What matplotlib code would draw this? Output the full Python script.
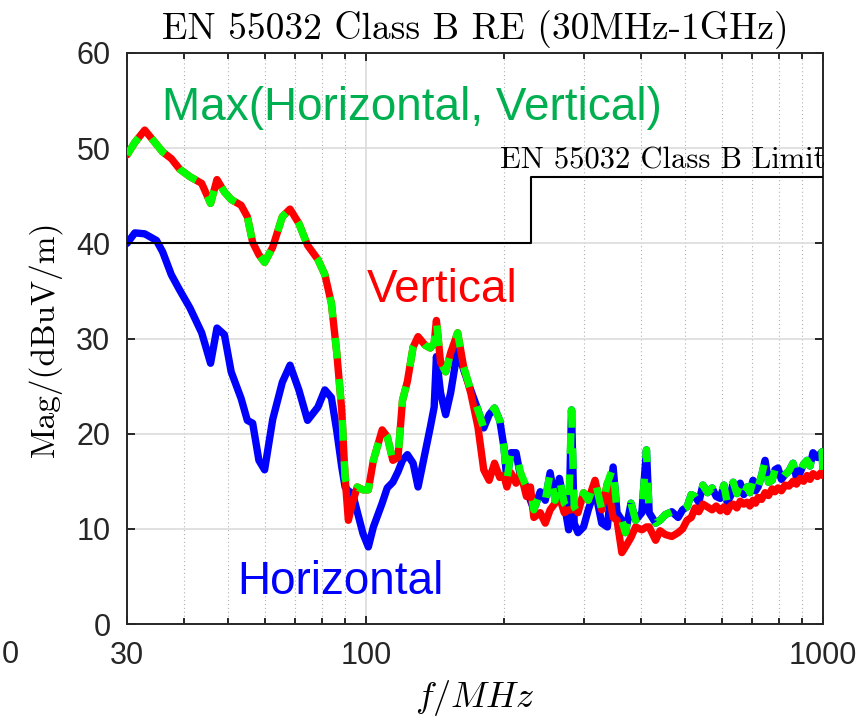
import numpy as np
import matplotlib
matplotlib.use("Agg")
import matplotlib.pyplot as plt
from matplotlib.ticker import FixedLocator, NullFormatter

plt.rcParams["font.family"] = ["Liberation Sans", "DejaVu Sans"]
plt.rcParams["mathtext.fontset"] = "cm"

# ---------------------------
# Data
# ---------------------------
freq_mhz = [
    30, 31.2, 32.8, 34.8, 35.9, 37.5, 39.1, 41.2, 43.7, 45.7,
    47.2, 49.0, 50.7, 53.3, 55.0, 56.5, 58.3, 60.0, 62.5, 65.6,
    68.2, 71.3, 74.5, 78.5, 81.3, 84.0, 86.3, 88.5, 90.0, 91.5,
    93.5, 95.7, 98.5, 101.2, 103.8, 108.5, 111.3, 114.5, 117.5, 120.2,
    123.2, 126.8, 130.0, 134.7, 138.3, 141.0, 142.6, 145.6, 149.4, 153.2,
    158.7, 163.6, 169.5, 175.8, 181.0, 186.0, 191.1, 196.2, 200.4, 203.4,
    207.5, 213.0, 217.9, 224.5, 229.0, 233.0, 240.6, 246.8, 252.9, 259.3,
    265.0, 271.5, 277.7, 281.7, 285.5, 291.0, 299.3, 306.5, 317.1, 328.0,
    337.5, 347.4, 354.3, 363.0, 369.6, 380.1, 389.0, 401.5, 410.9, 416.6,
    430.4, 440, 452, 467, 482, 493, 504, 515, 525, 535,
    546, 559, 572, 584, 596, 607, 617, 627, 636, 648,
    659, 671, 682, 692, 703, 712, 721, 734, 747, 760,
    774, 785, 797, 811, 826, 843, 860, 875, 891, 907,
    923, 937, 951, 972, 995, 1000,
]

horizontal_db = [
    40.0, 41.1, 41.0, 40.3, 39.1, 36.7, 35.1, 33.2, 30.6, 27.4,
    31.1, 30.4, 26.5, 23.7, 21.4, 21.1, 17.2, 16.2, 21.5, 25.4,
    27.2, 24.6, 21.4, 22.8, 24.6, 23.8, 20.3, 16.5, 14.4, 14.0,
    13.7, 11.8, 9.5, 8.1, 10.2, 12.7, 14.3, 14.9, 16.0, 17.2,
    17.8, 16.9, 14.4, 18.0, 20.7, 22.8, 28.1, 24.3, 22.0, 24.3,
    28.8, 26.7, 24.6, 22.5, 20.6, 22.0, 22.7, 21.4, 18.6, 15.1,
    18.0, 18.0, 15.5, 14.4, 13.0, 12.0, 13.9, 13.0, 15.9, 13.0,
    15.3, 12.7, 9.9, 22.5, 10.6, 9.6, 10.2, 12.0, 14.1, 10.6,
    10.2, 16.5, 11.7, 10.9, 9.6, 12.7, 10.9, 11.7, 18.3, 11.7,
    10.6, 10.9, 11.5, 11.8, 11.2, 12.0, 12.3, 13.6, 13.4, 12.8,
    14.6, 13.8, 14.3, 13.4, 13.2, 14.6, 12.8, 13.4, 14.9, 13.7,
    14.8, 13.6, 14.4, 13.8, 15.1, 14.0, 14.4, 15.6, 17.2, 14.9,
    15.1, 16.2, 16.4, 15.2, 15.7, 16.1, 16.9, 15.4, 15.9, 16.8,
    17.2, 16.6, 18.0, 17.5, 18.1, 16.2,
]

vertical_db = [
    49.3, 50.6, 51.9, 50.4, 49.6, 48.9, 47.8, 47.0, 46.3, 44.2,
    46.7, 45.4, 44.6, 44.0, 42.8, 40.1, 38.8, 38.0, 39.6, 42.8,
    43.6, 42.1, 39.8, 38.3, 36.7, 33.7, 28.5, 22.5, 15.4, 10.9,
    12.8, 14.4, 14.1, 14.1, 17.2, 20.4, 19.7, 17.2, 17.5, 23.5,
    25.5, 29.1, 30.2, 29.3, 29.0, 29.5, 31.9, 27.5, 26.5, 28.5,
    30.6, 27.0, 24.3, 20.7, 16.2, 15.1, 16.9, 15.4, 15.6, 14.4,
    15.9, 14.8, 15.9, 13.4, 14.4, 11.2, 11.7, 10.6, 12.0, 12.7,
    13.4, 11.7, 12.0, 12.0, 12.3, 11.7, 13.8, 13.0, 15.1, 12.0,
    14.8, 11.2, 10.9, 7.5, 8.1, 9.1, 10.2, 9.9, 10.2, 10.2,
    8.8, 9.8, 9.4, 9.2, 9.6, 10.0, 10.9, 11.2, 12.2, 11.8,
    12.6, 12.3, 12.0, 12.4, 11.9, 12.3, 11.8, 12.4, 12.6, 12.2,
    12.9, 12.6, 12.8, 12.4, 13.0, 12.7, 13.3, 13.1, 13.8, 13.5,
    14.2, 13.9, 14.3, 14.0, 14.6, 14.5, 15.0, 14.7, 15.3, 15.0,
    15.6, 15.2, 15.8, 15.5, 16.0, 15.6,
]

limit_freq = [30, 230, 230, 1000]
limit_db = [40, 40, 47, 47]

freq = np.array(freq_mhz)
h = np.array(horizontal_db)
v = np.array(vertical_db)
max_hv = np.maximum(h, v)

# ---------------------------
# Plot
# ---------------------------
fig = plt.figure(figsize=(8.66, 7.22), dpi=100)
ax = fig.add_axes([0.1467, 0.1357, 0.8036, 0.7909])

lw = 5.3
ax.plot(freq, h, color="#0000ff", lw=lw, solid_joinstyle="round", solid_capstyle="round", zorder=3)
ax.plot(freq, v, color="#ff0000", lw=lw, solid_joinstyle="round", solid_capstyle="round", zorder=4)
ax.plot(freq, max_hv, color="#00ff00", lw=lw, dashes=(2.8, 2.8), dash_capstyle="butt", zorder=5)
ax.plot(limit_freq, limit_db, color="black", lw=1.5, zorder=6)

ax.set_xscale("log")
ax.set_xlim(30, 1000)
ax.set_ylim(0, 60)

ax.xaxis.set_major_locator(FixedLocator([30, 100, 1000]))
ax.set_xticklabels(["30", "100", "1000"])
ax.xaxis.set_minor_locator(FixedLocator([40, 50, 60, 70, 80, 90, 200, 300, 400, 500, 600, 700, 800, 900]))
ax.xaxis.set_minor_formatter(NullFormatter())
ax.set_yticks(range(0, 61, 10))

ax.grid(which="major", color="#dcdcdc", lw=1.2, zorder=0)
ax.grid(which="minor", axis="x", color="#b0b0b0", lw=0.8, ls=(0, (1, 2.5)), zorder=0)
ax.set_axisbelow(True)

ax.tick_params(which="both", direction="in", top=True, right=True, color="#262626", width=1.4)
ax.tick_params(which="major", length=6, labelsize=22, pad=12, labelcolor="#262626")
ax.tick_params(which="minor", length=4)
for sp in ax.spines.values():
    sp.set_color("#262626")
    sp.set_linewidth(1.4)

ax.set_title("EN 55032 Class B RE (30MHz-1GHz)", family="cmr10", fontsize=27, pad=10)
ax.set_ylabel("Mag/(dBuV/m)", family="cmr10", fontsize=24, labelpad=10)
ax.set_xlabel(r"$f/MHz$", fontsize=26, labelpad=5)

ax.text(35.7, 54.2, "Max(Horizontal, Vertical)", color="#00b050", fontsize=33, ha="left", va="center", zorder=7)
ax.text(100.5, 35.1, "Vertical", color="#ff0000", fontsize=33, ha="left", va="center", zorder=7)
ax.text(52.4, 4.4, "Horizontal", color="#0000ff", fontsize=33, ha="left", va="center", zorder=7)
ax.text(196.6, 48.7, "EN 55032 Class B Limit", family="cmr10", fontsize=22, ha="left", va="center",
        zorder=7, clip_on=False)

fig.text(10 / 866, 1 - 655 / 722, "0", fontsize=22, color="#262626", ha="center", va="center")

fig.savefig("out.png", dpi=100)
plt.close(fig)
